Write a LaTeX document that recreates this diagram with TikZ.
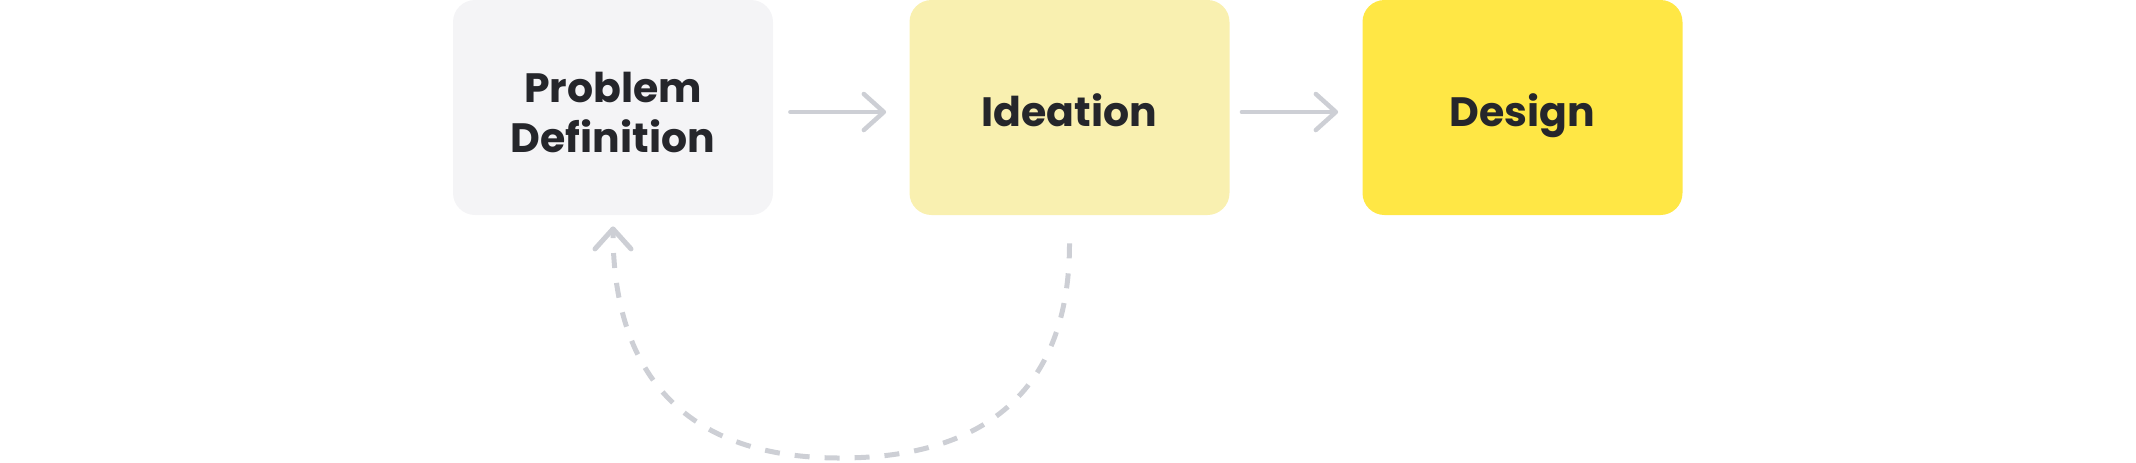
\documentclass[tikz,border=0pt]{standalone}
\usepackage{fontspec}
\setmainfont{Poppins}
\usetikzlibrary{arrows.meta}
\definecolor{boxgray}{HTML}{F4F4F6}
\definecolor{boxpale}{HTML}{F9F0B0}
\definecolor{boxyel}{HTML}{FFE745}
\definecolor{ink}{HTML}{25262B}
\definecolor{conn}{HTML}{CDCFD5}
\begin{document}
\begin{tikzpicture}[x=0.5pt,y=-0.5pt,
  stagebox/.style={minimum width=160pt,minimum height=107.5pt,rounded corners=11pt,inner sep=0pt,text=ink,font=\fontsize{20.5pt}{25pt}\selectfont\bfseries},
  oneline/.style={text height=18.5pt,text depth=0pt},
  twoline/.style={text height=44.5pt,text depth=0pt},
  flowarrow/.style={conn,line width=2.25pt,line cap=round,-{Straight Barb[length=10pt,width=18pt,round]}},
  loopline/.style={conn,line width=2.5pt,dash pattern=on 7.5pt off 7.5pt,-{Straight Barb[length=10pt,width=18pt,round]}}]
\useasboundingbox (0,0) rectangle (2136,462);
\node[stagebox,twoline,fill=boxgray] (pd) at (613,107.5) {\vbox{\halign{\hfil#\hfil\cr Problem\cr Definition\cr}}};
\node[stagebox,oneline,fill=boxpale] (id) at (1069.5,107.5) {Ideation};
\node[stagebox,oneline,fill=boxyel] (de) at (1522.5,107.5) {Design};
\draw[flowarrow,shorten <=8.5pt,shorten >=11.5pt] ([yshift=-2.25pt]pd.east) -- ([yshift=-2.25pt]id.west);
\draw[flowarrow,shorten <=6pt,shorten >=12pt] ([yshift=-2.25pt]id.east) -- ([yshift=-2.25pt]de.west);
\coordinate (loopbot) at (840,458);
\draw[loopline] ([yshift=-14pt]id.south) .. controls +(0,142) and +(150,0) .. (loopbot)
  .. controls +(-150,0) and +(0,153) .. ([yshift=-5.5pt]pd.south);
\end{tikzpicture}
\end{document}
